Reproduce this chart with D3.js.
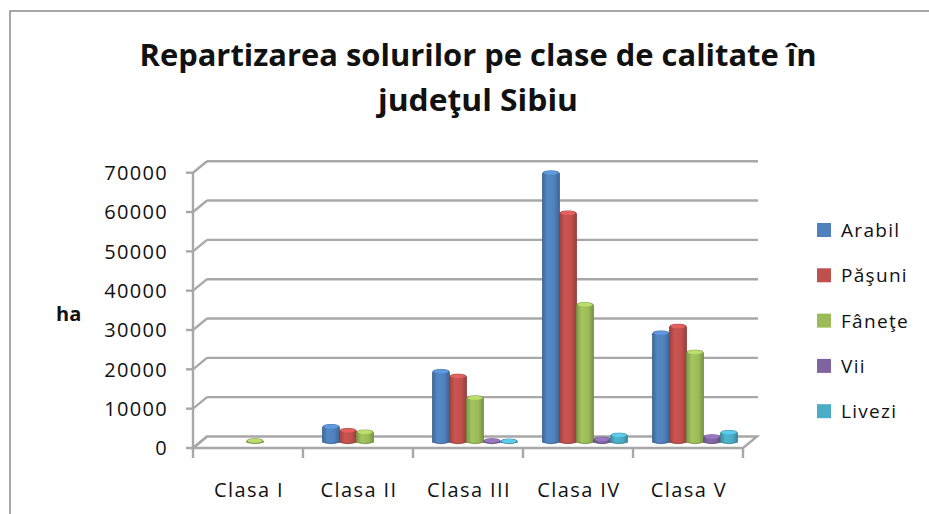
<!DOCTYPE html>
<meta charset="utf-8">
<head>
<script src="https://cdn.jsdelivr.net/npm/d3@7"></script>
<style>
body { margin: 0; background: #fff; }
text { font-family: "Open Sans", sans-serif; fill: #111; }
.title { font-weight: bold; font-size: 31px; }
.tick-label { font-size: 20px; letter-spacing: 1.3px; }
.cat-label { font-size: 20px; letter-spacing: 1.4px; }
.legend-label { font-size: 19px; letter-spacing: 1.3px; }
.grid { stroke: #a8a8a8; stroke-width: 2.4; fill: none; }
</style>
</head>
<body>
<script>

// date
var categories = ["Clasa I", "Clasa II", "Clasa III", "Clasa IV", "Clasa V"];
var seriesNames = ["Arabil", "Păşuni", "Fâneţe", "Vii", "Livezi"];
var arabil = [0, 4000, 18000, 68500, 27800];
var pasuni = [0, 3000, 16800, 58300, 29500];
var fanete = [400, 2600, 11300, 35000, 22900];
var vii    = [0, 0, 400, 800, 1400];
var livezi = [0, 0, 300, 1800, 2500];
var yTicks = [0, 10000, 20000, 30000, 40000, 50000, 60000, 70000];
var colors = ["#4f81bd", "#c0504d", "#9bbb59", "#8064a2", "#4bacc6"];

var values = [arabil, pasuni, fanete, vii, livezi];

var width = 929, height = 514;
var depthX = 14, depthY = -11.5;   // decalaj perete spate

var svg = d3.select("body").append("svg")
    .attr("width", width)
    .attr("height", height);

// chenar
svg.append("rect")
    .attr("x", 10).attr("y", 11)
    .attr("width", 940).attr("height", 520)
    .attr("fill", "none").attr("stroke", "#8c8c8c").attr("stroke-width", 1.5);

// titlu
svg.append("text").attr("class", "title")
    .attr("x", 478).attr("y", 66)
    .attr("text-anchor", "middle")
    .attr("textLength", 677).attr("lengthAdjust", "spacingAndGlyphs")
    .text("Repartizarea solurilor pe clase de calitate în");
svg.append("text").attr("class", "title")
    .attr("x", 478).attr("y", 111)
    .attr("text-anchor", "middle")
    .attr("textLength", 200).attr("lengthAdjust", "spacingAndGlyphs")
    .text("judeţul Sibiu");

// scale
var x = d3.scaleBand().domain(categories).range([193, 743]);
var y = d3.scaleLinear().domain([0, 70000]).range([448, 172.7]);
var xs = d3.scaleBand().domain(seriesNames).range([12.5, x.bandwidth() - 12.5]);

// gradient pentru fiecare serie
var defs = svg.append("defs");
colors.forEach(function(c, i) {
  var g = defs.append("linearGradient").attr("id", "grad" + i)
      .attr("x1", "0%").attr("x2", "100%").attr("y1", "0%").attr("y2", "0%");
  var base = d3.color(c);
  g.append("stop").attr("offset", "0%").attr("stop-color", base.darker(0.6));
  g.append("stop").attr("offset", "30%").attr("stop-color", base.brighter(0.15));
  g.append("stop").attr("offset", "70%").attr("stop-color", base);
  g.append("stop").attr("offset", "100%").attr("stop-color", base.darker(0.7));
});

// grila pe peretele din spate + legaturi spre axa
var grid = svg.append("g");
yTicks.forEach(function(t) {
  var yf = y(t);
  if (t > 0) {
    grid.append("line").attr("class", "grid")
      .attr("x1", x.range()[0] + depthX).attr("x2", x.range()[1] + depthX + 1)
      .attr("y1", yf + depthY).attr("y2", yf + depthY);
  }
  grid.append("line").attr("class", "grid")
    .attr("x1", x.range()[0]).attr("x2", x.range()[0] + depthX)
    .attr("y1", yf).attr("y2", yf + depthY);
  // tick
  grid.append("line").attr("class", "grid")
    .attr("x1", x.range()[0] - 7).attr("x2", x.range()[0])
    .attr("y1", yf).attr("y2", yf);
});

// podea
var f0 = y(0);
grid.append("path").attr("class", "grid")
  .attr("d", "M" + x.range()[0] + "," + f0 +
             "L" + x.range()[1] + "," + f0 +
             "L" + (x.range()[1] + depthX) + "," + (f0 + depthY) +
             "L" + (x.range()[0] + depthX) + "," + (f0 + depthY) + "Z");

// axa verticala
grid.append("line").attr("class", "grid")
  .attr("x1", x.range()[0]).attr("x2", x.range()[0])
  .attr("y1", y(70000)).attr("y2", f0);

// tick-uri categorii
var catEdges = categories.map(function(c) { return x(c); }).concat([x.range()[1]]);
catEdges.forEach(function(e) {
  grid.append("line").attr("class", "grid")
    .attr("x1", e).attr("x2", e).attr("y1", f0).attr("y2", f0 + 10);
});

// etichete axa Y
svg.append("g").selectAll("text").data(yTicks).enter().append("text")
    .attr("class", "tick-label")
    .attr("x", 168).attr("y", function(d) { return y(d); })
    .attr("dy", "0.36em")
    .attr("text-anchor", "end")
    .text(function(d) { return d; });

svg.append("text")
    .attr("x", 56).attr("y", 321)
    .style("font-weight", "bold").style("font-size", "20px")
    .text("ha");

// etichete categorii
svg.append("g").selectAll("text").data(categories).enter().append("text")
    .attr("class", "cat-label")
    .attr("x", function(d) { return x(d) + x.bandwidth() / 2 + 1; })
    .attr("y", 497)
    .attr("text-anchor", "middle")
    .text(function(d) { return d; });

// coloane
var bars = svg.append("g");
var midX = depthX / 2, midY = depthY / 2;
var bw = xs.bandwidth();
values.forEach(function(vals, si) {
  vals.forEach(function(v, ci) {
    if (v <= 0) return;
    var bx = x(categories[ci]) + xs(seriesNames[si]) + midX;
    var top = y(v) + midY, bottom = y(0) + midY;
    var c = d3.color(colors[si]);
    bars.append("path")
      .attr("d", "M" + bx + "," + bottom +
                 "L" + bx + "," + (top + 1) +
                 "Q" + bx + "," + (top - 2) + " " + (bx + bw / 2) + "," + (top - 2) +
                 "Q" + (bx + bw) + "," + (top - 2) + " " + (bx + bw) + "," + (top + 1) +
                 "L" + (bx + bw) + "," + bottom +
                 "Q" + (bx + bw / 2) + "," + (bottom + 3) + " " + bx + "," + bottom + "Z")
      .attr("fill", "url(#grad" + si + ")")
      .attr("stroke", c.darker(0.8))
      .attr("stroke-width", 0.8);
    bars.append("ellipse")
      .attr("cx", bx + bw / 2).attr("cy", top)
      .attr("rx", bw / 2 - 1).attr("ry", 2)
      .attr("fill", c.brighter(0.5));
  });
});

// legenda
var legend = svg.append("g").selectAll("g").data(seriesNames).enter().append("g")
    .attr("transform", function(d, i) { return "translate(817," + (223 + i * 45.3) + ")"; });
legend.append("rect")
    .attr("width", 14).attr("height", 14)
    .attr("fill", function(d, i) { return colors[i]; });
legend.append("text")
    .attr("class", "legend-label")
    .attr("x", 24).attr("y", 14)
    .text(function(d) { return d; });

</script>
</body>
